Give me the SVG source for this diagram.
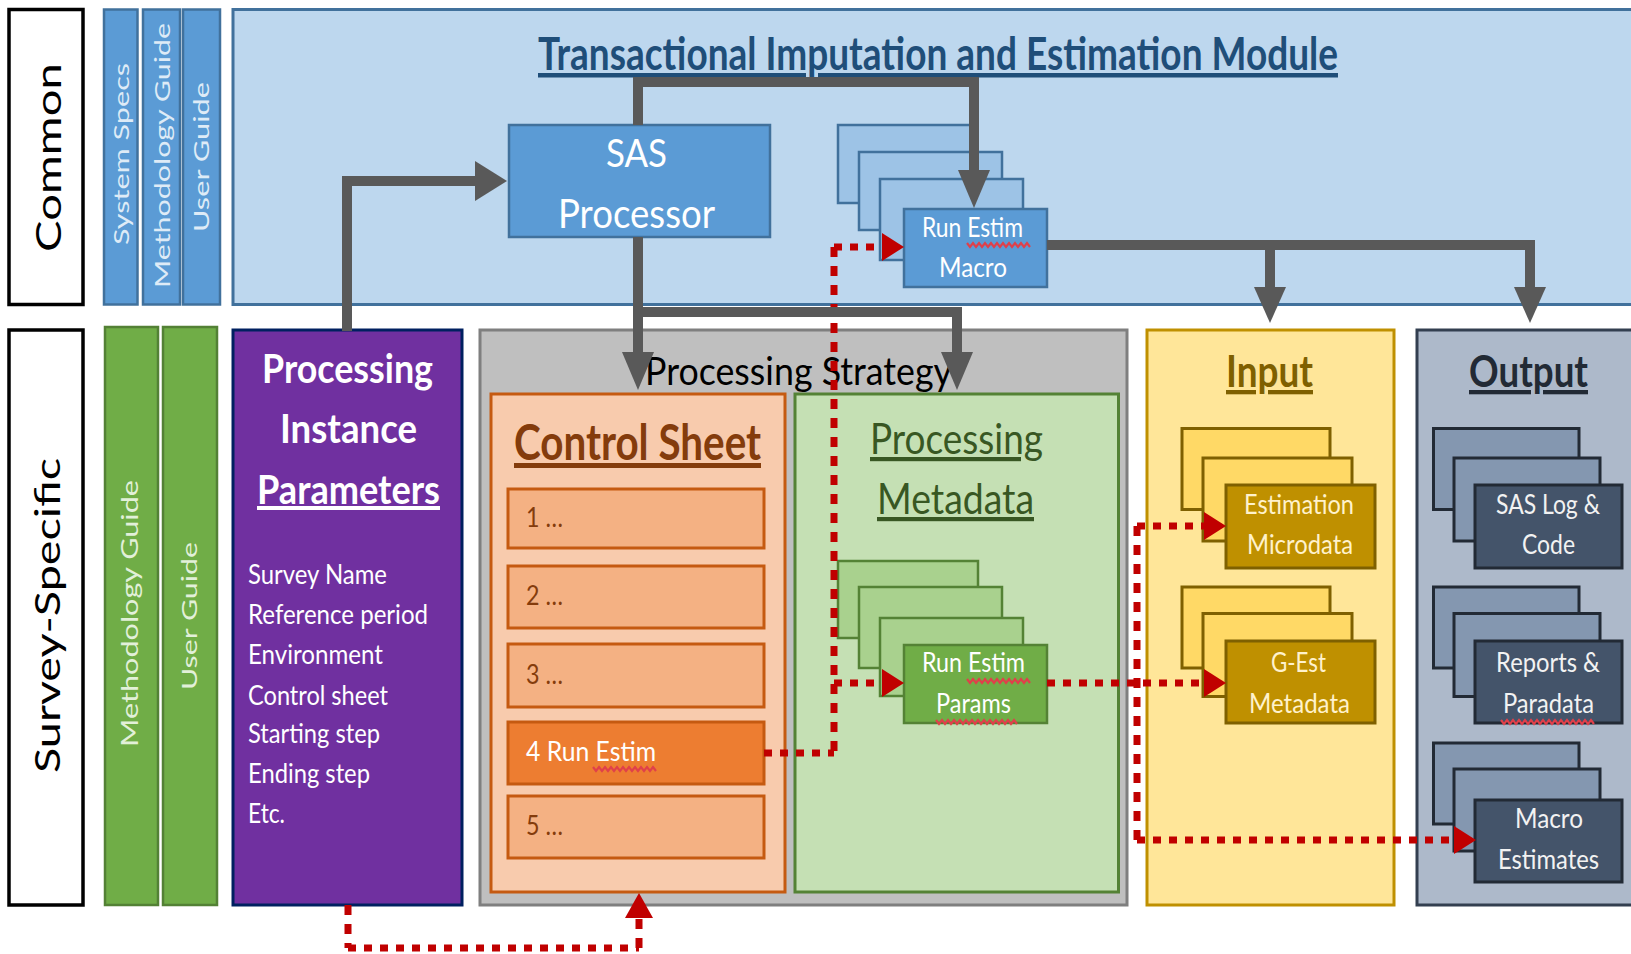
<svg xmlns="http://www.w3.org/2000/svg" width="1631" height="954" viewBox="0 0 1631 954">
<style>
text{font-family:Lato,"Liberation Sans",sans-serif}
.lbl{stroke-width:3.5;stroke:#000;fill:#fff}
.bcol{fill:#5B9BD5;stroke:#41719C;stroke-width:2.5}
.gcol{fill:#70AD47;stroke:#538135;stroke-width:2.5}
.vt{font-size:22px}
.bs1{fill:#9DC3E6;stroke:#41719C;stroke-width:2.5}
.bs2{fill:#5B9BD5;stroke:#41719C;stroke-width:2.5}
.gs1{fill:#A9D18E;stroke:#548235;stroke-width:2.5}
.gs2{fill:#70AD47;stroke:#548235;stroke-width:2.5}
.ys1{fill:#FFD966;stroke:#7F6000;stroke-width:3}
.ys2{fill:#BF9000;stroke:#7F6000;stroke-width:3}
.os1{fill:#8497B0;stroke:#222A35;stroke-width:3}
.os2{fill:#44546A;stroke:#222A35;stroke-width:3}
.row{fill:#F4B183;stroke:#C55A11;stroke-width:3}
.rt{font-size:26px;fill:#843C0C}
.st{font-size:27px;fill:#fff}
.pl{font-size:26px;fill:#fff}
.gl{fill:none;stroke:#595959;stroke-width:10;stroke-linejoin:miter;stroke-linecap:butt}
.ga{fill:#595959}
.doth{fill:none;stroke:#C00000;stroke-width:7;stroke-dasharray:8 8}
.dotv{fill:none;stroke:#C00000;stroke-width:7;stroke-dasharray:10 9}
.ra{fill:#C00000}
.sq{fill:none;stroke:#E0404A;stroke-width:2.2}
</style>

<g id="common-label">
<rect class="lbl" x="9" y="9.5" width="74" height="295"/>
<text transform="rotate(-90)" x="-252" y="61" font-size="35" textLength="189" lengthAdjust="spacingAndGlyphs" fill="#000">Common</text>
</g>
<g id="survey-specific-label">
<rect class="lbl" x="9" y="330" width="74" height="575"/>
<text transform="rotate(-90)" x="-773" y="60" font-size="35" textLength="315" lengthAdjust="spacingAndGlyphs" fill="#000">Survey-Specific</text>
</g>

<g id="common-system-specs">
<rect class="bcol" x="104" y="9.5" width="33.5" height="295"/>
<text class="vt" transform="rotate(-90)" x="-245" y="129" textLength="182" lengthAdjust="spacingAndGlyphs" fill="#DEEBF7">System Specs</text>
</g>
<g id="common-methodology-guide">
<rect class="bcol" x="143" y="9.5" width="37" height="295"/>
<text class="vt" transform="rotate(-90)" x="-288" y="169.5" textLength="265" lengthAdjust="spacingAndGlyphs" fill="#DEEBF7">Methodology Guide</text>
</g>
<g id="common-user-guide">
<rect class="bcol" x="183" y="9.5" width="37" height="295"/>
<text class="vt" transform="rotate(-90)" x="-232" y="209" textLength="150" lengthAdjust="spacingAndGlyphs" fill="#DEEBF7">User Guide</text>
</g>

<g id="module">
<rect x="233" y="9.5" width="1420" height="295" fill="#BDD7EE" stroke="#41719C" stroke-width="3"/>
<text x="538" y="70" font-size="45" font-weight="bold" fill="#1F4E79" text-decoration="underline" textLength="800" lengthAdjust="spacingAndGlyphs">Transactional Imputation and Estimation Module</text>
</g>

<g id="sas-processor">
<rect x="509" y="125" width="261" height="112" fill="#5B9BD5" stroke="#41719C" stroke-width="2.5"/>
<text x="606" y="167" font-size="39" fill="#fff" textLength="61" lengthAdjust="spacingAndGlyphs">SAS</text>
<text x="558" y="228" font-size="40" fill="#fff" textLength="157" lengthAdjust="spacingAndGlyphs">Processor</text>
</g>

<g id="run-estim-macro">
<rect class="bs1" x="838" y="125" width="137" height="78"/>
<rect class="bs1" x="859" y="152" width="143" height="78"/>
<rect class="bs1" x="880" y="179" width="143" height="81"/>
<rect class="bs2" x="904" y="209" width="143" height="78"/>
<text class="st" x="922" y="237" font-size="26" textLength="101" lengthAdjust="spacingAndGlyphs">Run Estim</text>
<text class="st" x="939" y="277" font-size="26" textLength="68" lengthAdjust="spacingAndGlyphs">Macro</text>
<polyline class="sq" points="967,243 970,247 973,243 976,247 979,243 982,247 985,243 988,247 991,243 994,247 997,243 1000,247 1003,243 1006,247 1009,243 1012,247 1015,243 1018,247 1021,243 1024,247 1027,243 1030,247"/>
</g>

<g id="survey-methodology-guide">
<rect class="gcol" x="105" y="327" width="53" height="578"/>
<text transform="rotate(-90)" x="-747" y="138" font-size="23" textLength="267" lengthAdjust="spacingAndGlyphs" fill="#E2F0D9">Methodology Guide</text>
</g>
<g id="survey-user-guide">
<rect class="gcol" x="163" y="327" width="54" height="578"/>
<text transform="rotate(-90)" x="-690" y="197" font-size="22" textLength="148" lengthAdjust="spacingAndGlyphs" fill="#E2F0D9">User Guide</text>
</g>

<g id="processing-instance-parameters">
<rect x="233" y="330" width="229" height="575" fill="#7030A0" stroke="#002060" stroke-width="3"/>
<text x="262" y="383" font-size="40" font-weight="bold" fill="#fff" textLength="171" lengthAdjust="spacingAndGlyphs">Processing</text>
<text x="280" y="443" font-size="40" font-weight="bold" fill="#fff" textLength="137" lengthAdjust="spacingAndGlyphs">Instance</text>
<text x="257" y="504" font-size="40" font-weight="bold" fill="#fff" text-decoration="underline" textLength="183" lengthAdjust="spacingAndGlyphs">Parameters</text>
<text class="pl" x="248" y="584" textLength="139" lengthAdjust="spacingAndGlyphs">Survey Name</text>
<text class="pl" x="248" y="624" textLength="180" lengthAdjust="spacingAndGlyphs">Reference period</text>
<text class="pl" x="248" y="664" textLength="135" lengthAdjust="spacingAndGlyphs">Environment</text>
<text class="pl" x="248" y="705" textLength="140" lengthAdjust="spacingAndGlyphs">Control sheet</text>
<text class="pl" x="248" y="743" textLength="132" lengthAdjust="spacingAndGlyphs">Starting step</text>
<text class="pl" x="248" y="783" textLength="122" lengthAdjust="spacingAndGlyphs">Ending step</text>
<text class="pl" x="248" y="823" textLength="37" lengthAdjust="spacingAndGlyphs">Etc.</text>
</g>

<g id="processing-strategy">
<rect x="480" y="330" width="647" height="575" fill="#BFBFBF" stroke="#7F7F7F" stroke-width="3"/>
<text x="645" y="385" font-size="39" fill="#000" textLength="307" lengthAdjust="spacingAndGlyphs">Processing Strategy</text>
</g>

<g id="control-sheet">
<rect x="491" y="394" width="294" height="498" fill="#F8CBAD" stroke="#C55A11" stroke-width="3"/>
<text x="514" y="460" font-size="50" font-weight="bold" fill="#843C0C" text-decoration="underline" textLength="247" lengthAdjust="spacingAndGlyphs">Control Sheet</text>
<rect class="row" x="508" y="489" width="256" height="59"/>
<text class="rt" x="526" y="527" textLength="37" lengthAdjust="spacingAndGlyphs">1 …</text>
<rect class="row" x="508" y="566" width="256" height="62"/>
<text class="rt" x="526" y="605" textLength="37" lengthAdjust="spacingAndGlyphs">2 …</text>
<rect class="row" x="508" y="644" width="256" height="63"/>
<text class="rt" x="526" y="684" textLength="37" lengthAdjust="spacingAndGlyphs">3 …</text>
<rect class="row" x="508" y="722" width="256" height="62" style="fill:#ED7D31"/>
<text class="rt" x="526" y="761" textLength="130" lengthAdjust="spacingAndGlyphs" style="fill:#fff">4 Run Estim</text>
<polyline class="sq" points="593,767 596,771 599,767 602,771 605,767 608,771 611,767 614,771 617,767 620,771 623,767 626,771 629,767 632,771 635,767 638,771 641,767 644,771 647,767 650,771 653,767 656,771"/>
<rect class="row" x="508" y="796" width="256" height="62"/>
<text class="rt" x="526" y="835" textLength="37" lengthAdjust="spacingAndGlyphs">5 …</text>
</g>

<g id="processing-metadata">
<rect x="795" y="394" width="323.5" height="498" fill="#C5E0B4" stroke="#548235" stroke-width="3"/>
<text x="870" y="454" font-size="42" fill="#385723" text-decoration="underline" textLength="173" lengthAdjust="spacingAndGlyphs">Processing</text>
<text x="877" y="514" font-size="42" fill="#385723" text-decoration="underline" textLength="157" lengthAdjust="spacingAndGlyphs">Metadata</text>
</g>

<g id="run-estim-params">
<rect class="gs1" x="838" y="561" width="140" height="77"/>
<rect class="gs1" x="859" y="587" width="143" height="81"/>
<rect class="gs1" x="880" y="618" width="143" height="78"/>
<rect class="gs2" x="904" y="645" width="143" height="78"/>
<text class="st" x="922" y="672" font-size="26" textLength="103" lengthAdjust="spacingAndGlyphs">Run Estim</text>
<text class="st" x="936" y="713" font-size="26" textLength="75" lengthAdjust="spacingAndGlyphs">Params</text>
<polyline class="sq" points="967,679 970,683 973,679 976,683 979,679 982,683 985,679 988,683 991,679 994,683 997,679 1000,683 1003,679 1006,683 1009,679 1012,683 1015,679 1018,683 1021,679 1024,683 1027,679 1030,683"/>
<polyline class="sq" points="936,720 939,724 942,720 945,724 948,720 951,724 954,720 957,724 960,720 963,724 966,720 969,724 972,720 975,724 978,720 981,724 984,720 987,724 990,720 993,724 996,720 999,724 1002,720 1005,724 1008,720 1011,724 1014,720 1017,724"/>
</g>

<g id="input">
<rect x="1147" y="330" width="247" height="575" fill="#FFE699" stroke="#BF9000" stroke-width="3"/>
<text x="1226" y="387" font-size="43" font-weight="bold" fill="#7F6000" text-decoration="underline" textLength="87" lengthAdjust="spacingAndGlyphs">Input</text>
</g>
<g id="estimation-microdata">
<rect class="ys1" x="1182" y="428.5" width="148" height="81"/>
<rect class="ys1" x="1203" y="458" width="149" height="83"/>
<rect class="ys2" x="1226" y="485" width="149" height="83"/>
<text class="st" x="1244" y="514" textLength="110" lengthAdjust="spacingAndGlyphs" style="fill:#FFF2CC">Estimation</text>
<text class="st" x="1247" y="554" textLength="106" lengthAdjust="spacingAndGlyphs" style="fill:#FFF2CC">Microdata</text>
</g>
<g id="g-est-metadata">
<rect class="ys1" x="1182" y="587" width="148" height="81"/>
<rect class="ys1" x="1203" y="613.5" width="149" height="83"/>
<rect class="ys2" x="1226" y="641" width="149" height="82"/>
<text class="st" x="1271" y="672" textLength="55" lengthAdjust="spacingAndGlyphs" style="fill:#FFF2CC">G-Est</text>
<text class="st" x="1249" y="713" textLength="101" lengthAdjust="spacingAndGlyphs" style="fill:#FFF2CC">Metadata</text>
</g>

<g id="output">
<rect x="1417" y="330" width="230" height="575" fill="#ADB9CA" stroke="#333F50" stroke-width="3"/>
<text x="1469" y="387" font-size="43" font-weight="bold" fill="#222A35" text-decoration="underline" textLength="119" lengthAdjust="spacingAndGlyphs">Output</text>
</g>
<g id="sas-log-code">
<rect class="os1" x="1433.5" y="428.5" width="145.5" height="81"/>
<rect class="os1" x="1454" y="458" width="146" height="83"/>
<rect class="os2" x="1475" y="485" width="147" height="83"/>
<text class="st" x="1496" y="514" textLength="104" lengthAdjust="spacingAndGlyphs" style="fill:#F2F2F2">SAS Log &amp;</text>
<text class="st" x="1522" y="554" textLength="53" lengthAdjust="spacingAndGlyphs" style="fill:#F2F2F2">Code</text>
</g>
<g id="reports-paradata">
<rect class="os1" x="1433.5" y="587" width="145.5" height="81"/>
<rect class="os1" x="1454" y="613.5" width="146" height="83"/>
<rect class="os2" x="1475" y="641" width="147" height="82"/>
<text class="st" x="1496" y="672" textLength="104" lengthAdjust="spacingAndGlyphs" style="fill:#F2F2F2">Reports &amp;</text>
<text class="st" x="1503" y="713" textLength="91" lengthAdjust="spacingAndGlyphs" style="fill:#F2F2F2">Paradata</text>
<polyline class="sq" points="1501,720 1504,724 1507,720 1510,724 1513,720 1516,724 1519,720 1522,724 1525,720 1528,724 1531,720 1534,724 1537,720 1540,724 1543,720 1546,724 1549,720 1552,724 1555,720 1558,724 1561,720 1564,724 1567,720 1570,724 1573,720 1576,724 1579,720 1582,724 1585,720 1588,724 1591,720 1594,724"/>
</g>
<g id="macro-estimates">
<rect class="os1" x="1433.5" y="743" width="145.5" height="81"/>
<rect class="os1" x="1454" y="769" width="146" height="82"/>
<rect class="os2" x="1475" y="800" width="147" height="82"/>
<text class="st" x="1515" y="828" textLength="68" lengthAdjust="spacingAndGlyphs" style="fill:#F2F2F2">Macro</text>
<text class="st" x="1498" y="869" textLength="101" lengthAdjust="spacingAndGlyphs" style="fill:#F2F2F2">Estimates</text>
</g>

<g id="connectors">
<path class="dotv" d="M834,247 V753"/>
<path class="doth" d="M764,753 H834"/>
<path class="doth" d="M834,247 H884"/>
<polygon class="ra" points="882,233 904,247 882,261"/>
<path class="doth" d="M834,683 H884"/>
<polygon class="ra" points="882,669 904,683 882,697"/>
<path class="doth" d="M1047,683 H1206"/>
<polygon class="ra" points="1204,669 1226,683 1204,697"/>
<path class="dotv" d="M1137,526 V840"/>
<path class="doth" d="M1137,526 H1206"/>
<polygon class="ra" points="1204,512 1226,526 1204,540"/>
<path class="doth" d="M1137,840 H1456"/>
<polygon class="ra" points="1454,826 1476,840 1454,854"/>
<path class="dotv" d="M348,905 V948"/>
<path class="doth" d="M348,948 H639"/>
<path class="dotv" d="M639,948 V915"/>
<polygon class="ra" points="625,918 639,893 653,918"/>

<path class="gl" d="M347,331 V181 H477"/>
<polygon class="ga" points="475,161 507,181 475,201"/>
<path class="gl" d="M638,125 V82 H974 V172"/>
<polygon class="ga" points="958,170 974,208 990,170"/>
<path class="gl" d="M638,237 V354"/>
<polygon class="ga" points="622,352 638,390 654,352"/>
<path class="gl" d="M633,312 H957 V354"/>
<polygon class="ga" points="941,352 957,390 973,352"/>
<path class="gl" d="M1047,245 H1530 V290"/>
<polygon class="ga" points="1514,287 1530,323 1546,287"/>
<path class="gl" d="M1270,245 V290"/>
<polygon class="ga" points="1254,287 1270,323 1286,287"/>
</g>
</svg>
